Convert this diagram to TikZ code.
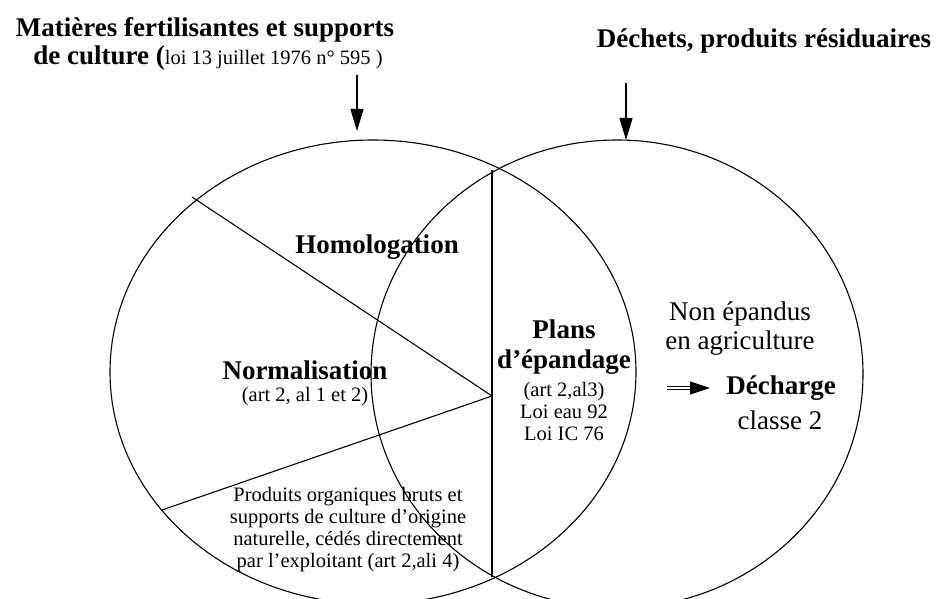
\documentclass[tikz,border=0pt]{standalone}
\usepackage{fontspec}
\setmainfont{Liberation Serif}
\usetikzlibrary{arrows.meta, shapes.geometric, positioning}

\begin{document}
\begin{tikzpicture}[x=1pt, y=-1pt, line width=1.1pt,
        zone/.style={ellipse, draw, inner sep=0pt, outer sep=0pt},
        big/.style={font=\fontsize{27}{29}\selectfont, align=center, inner sep=0pt},
        small/.style={font=\fontsize{20.5}{22}\selectfont, align=center, inner sep=0pt},
        down/.style={-{Triangle[length=22pt, width=13pt]}}]
        \useasboundingbox (0,0) rectangle (936,599);
        \clip (0,0) rectangle (936,599);

        % the two domains
        \node[zone, minimum width=526pt, minimum height=464pt] (fert) at (373,372) {};
        \node[zone, minimum width=492pt, minimum height=468pt] (dech) at (617,374) {};

        \coordinate (top) at (492,170);
        \coordinate (bot) at (492,577);
        \coordinate (mid) at (492,396);
        \coordinate (cutA) at (192,197);
        \coordinate (cutB) at (162,510);
        \draw (top) -- (bot);
        \draw (cutA) -- (mid) -- (cutB);

        % titles
        \node[big, anchor=base] (tfert) at (205,37) {\bfseries Matières fertilisantes et supports};
        \node[big, anchor=base] (tfert2) at (208,65) {\bfseries de culture (\mdseries\fontsize{20.5}{22}\selectfont loi 13 juillet 1976 n° 595 )};
        \node[big, anchor=base] (tdech) at (764,48) {\bfseries Déchets, produits résiduaires};
        \coordinate (fa) at (357,75);
        \coordinate (fb) at (357,131);
        \coordinate (da) at (626,83);
        \coordinate (db) at (626,140);
        \draw[down] (fa) -- (fb);
        \draw[down] (da) -- (db);

        % inside
        \node[big] (homol) at (377,247) {\bfseries Homologation};
        \node[big] (norm) at (305,370) {\bfseries Normalisation};
        \node[small] (normref) at (305,397) {(art 2, al 1 et 2)};
        \node[big, font=\fontsize{27}{30}\selectfont\bfseries] (plans) at (564,347) {Plans\\d’épandage};
        \node[small] (planref) at (564,411) {(art 2,al3)\\Loi eau 92\\Loi IC 76};
        \node[big] (nonep) at (740,329) {Non épandus\\en agriculture};
        \node[big] (decharge) at (781,388) {\bfseries Décharge};
        \node[big] (classe) at (780,420) {classe 2};
        \coordinate (imp) at (667,388);
        \draw[double, double distance=2.2pt, line width=0.8pt,
            -{Triangle[length=20pt, width=13pt]}] (imp) -- (710,388);
        \node[small] (bruts) at (348,530) {Produits organiques bruts et\\supports de culture d’origine\\naturelle, cédés directement\\par l’exploitant (art 2,ali 4)};
\end{tikzpicture}
\end{document}
